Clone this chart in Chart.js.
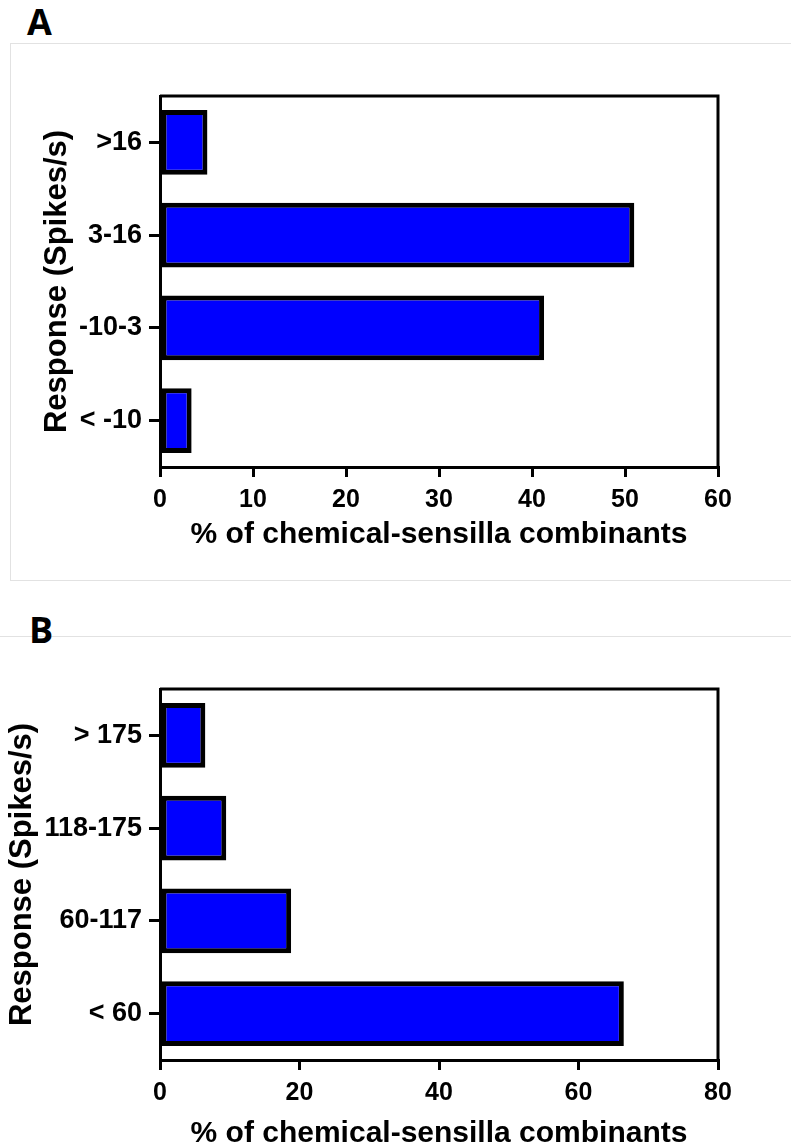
<!DOCTYPE html>
<html>
<head>
    <meta charset="utf-8"/>
    <title>Response distribution</title>
    <script src="https://cdn.jsdelivr.net/npm/chart.js"></script>
    <style>
        html, body { margin: 0; padding: 0; background: #fff; overflow: hidden; }
        body { width: 791px; height: 1147px; position: relative; }
        .panel-box { position: absolute; border: 1px solid #e2e2e2; }
        .panel-letter { position: absolute; font-family: "Open Sans", "Liberation Sans", sans-serif;
                        font-weight: 700; font-size: 36px; line-height: 1; }
        canvas { position: absolute; left: 0; }
    </style>
</head>
<body>
    <div class="panel-box" style="left:10px; top:43px; width:800px; height:536px;"></div>
    <div class="panel-box" style="left:-2px; top:636px; width:820px; height:600px;"></div>
    <div class="panel-letter" style="left:27px; top:4px;">A</div>
    <div class="panel-letter" style="left:29px; top:612px;">B</div>

    <canvas id="chartA" width="791" height="537" style="top:43px;"></canvas>
    <canvas id="chartB" width="791" height="537" style="top:636px;"></canvas>

    <script type="text/javascript">
      // Panel A data
      const labelsA = ['>16', '3-16', '-10-3', '< -10'];
      const valuesA = [5.1, 51.0, 41.3, 3.4];
      const xMaxA = 60;
      const xStepA = 10;

      // Panel B data
      const labelsB = ['> 175', '118-175', '60-117', '< 60'];
      const valuesB = [6.5, 9.5, 18.8, 66.5];
      const xMaxB = 80;
      const xStepB = 20;

      const xTitle = '% of chemical-sensilla combinants';
      const yTitle = 'Response (Spikes/s)';

      const FONT = '"Liberation Sans", Arial, sans-serif';

      // closes the box on the top and right side of the plot
      const framePlugin = {
          id: 'frame',
          afterDraw(chart) {
              const a = chart.chartArea;
              const ctx = chart.ctx;
              ctx.save();
              ctx.strokeStyle = '#000';
              ctx.lineWidth = 3;
              ctx.beginPath();
              ctx.moveTo(a.left, a.top);
              ctx.lineTo(a.right, a.top);
              ctx.lineTo(a.right, a.bottom);
              ctx.stroke();
              ctx.restore();
          }
      };

      function makeChart(id, labels, values, xMax, xStep, leftPad, titleGap) {
          const ctx = document.getElementById(id).getContext('2d');
          return new Chart(ctx, {
              type: 'bar',
              data: {
                  labels: labels,
                  datasets: [{
                      data: values,
                      backgroundColor: '#0000FF',
                      borderColor: '#000',
                      borderWidth: 5,
                      borderSkipped: false,
                      barPercentage: 0.7,
                      categoryPercentage: 1.0
                  }]
              },
              options: {
                  indexAxis: 'y',
                  responsive: false,
                  animation: false,
                  layout: { padding: { top: 53, right: 73, left: leftPad, bottom: 0 } },
                  plugins: {
                      legend: { display: false },
                      tooltip: { enabled: false }
                  },
                  scales: {
                      x: {
                          min: 0,
                          max: xMax,
                          ticks: {
                              stepSize: xStep,
                              color: '#000',
                              padding: 8,
                              maxRotation: 0,
                              font: { family: FONT, size: 25, weight: 'bold' }
                          },
                          grid: {
                              drawOnChartArea: false,
                              drawTicks: true,
                              tickLength: 10,
                              color: '#000',
                              lineWidth: 3
                          },
                          border: { display: true, color: '#000', width: 3 },
                          title: {
                              display: true,
                              text: xTitle,
                              color: '#000',
                              padding: { top: 4, bottom: titleGap },
                              font: { family: FONT, size: 30, weight: 'bold' }
                          },
                          afterFit(scale) { scale.height = 113; }
                      },
                      y: {
                          ticks: {
                              color: '#000',
                              padding: 7,
                              autoSkip: false,
                              font: { family: FONT, size: 27, weight: 'bold' }
                          },
                          grid: {
                              offset: false,
                              drawOnChartArea: false,
                              drawTicks: true,
                              tickLength: 11,
                              color: '#000',
                              lineWidth: 3
                          },
                          border: { display: true, color: '#000', width: 3 },
                          title: {
                              display: true,
                              text: yTitle,
                              color: '#000',
                              padding: { top: 4, bottom: 4 },
                              font: { family: FONT, size: 31, weight: 'bold' }
                          },
                          afterFit(scale) { scale.width = 160 - leftPad; }
                      }
                  }
              },
              plugins: [framePlugin]
          });
      }

      makeChart('chartA', labelsA, valuesA, xMaxA, xStepA, 35, 27);
      makeChart('chartB', labelsB, valuesB, xMaxB, xStepB, 0, 21);
    </script>
</body>
</html>
